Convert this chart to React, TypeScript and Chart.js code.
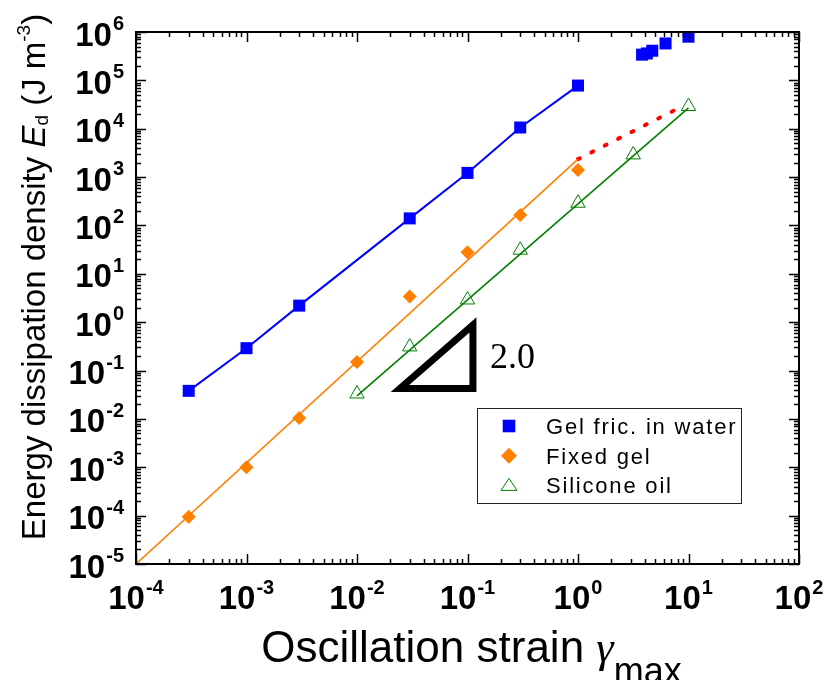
import React, { useEffect, useRef } from "react";
import { Chart, registerables } from "chart.js";

Chart.register(...registerables);

// ---------- data ----------
const gelWaterX = [3e-4, 1e-3, 3e-3, 3e-2, 1e-1, 3e-1, 1, 3.8, 4.2, 4.7, 6.2, 10];
const gelWaterY = [0.038, 0.29, 2.2, 140, 1220, 10600, 78000, 340000, 360000, 410000, 580000, 800000];

const fixedGelX = [3e-4, 1e-3, 3e-3, 1e-2, 3e-2, 1e-1, 3e-1, 1];
const fixedGelY = [9.5e-5, 1.0e-3, 0.0105, 0.15, 3.4, 28, 165, 1400];

const siliconeX = [1e-2, 3e-2, 1e-1, 3e-1, 1, 3.16, 10];
const siliconeY = [0.033, 0.31, 2.9, 31, 290, 2900, 29000];

const fixedGelFitX = [1e-4, 1];
const fixedGelFitY = [1e-5, 2350];

const siliconeFitX = [1e-2, 10];
const siliconeFitY = [0.03, 27000];

const extrapX = [1, 8.5];
const extrapY = [2350, 28000];

// slope triangle (data coordinates), path starts mid-bottom so every corner is joined
const slopeTriX = [0.0524, 0.112, 0.112, 0.0245, 0.0524];
const slopeTriY = [0.0426, 0.0426, 0.88, 0.0426, 0.0426];
const slopeLabel = "2.0";

const xExponents = [-4, -3, -2, -1, 0, 1, 2];
const yExponents = [-5, -4, -3, -2, -1, 0, 1, 2, 3, 4, 5, 6];

const seriesLabels = ["Gel fric. in water", "Fixed gel", "Silicone oil"];

// ---------- styles ----------
const BLUE = "#0000ff";
const ORANGE = "#ff8000";
const GREEN = "#008000";
const RED = "#ff0000";
const SANS = "'Liberation Sans', Arial, sans-serif";
const SERIF = "'Liberation Serif', 'Times New Roman', serif";

const pts = (xs: number[], ys: number[]) => xs.map((x, i) => ({ x, y: ys[i] }));

type Piece = { text: string; font: string; dy?: number };

function drawPieces(ctx: CanvasRenderingContext2D, pieces: Piece[], cx: number, baseline: number) {
  let total = 0;
  const widths = pieces.map((p) => {
    ctx.font = p.font;
    const w = ctx.measureText(p.text).width;
    total += w;
    return w;
  });
  let x = cx - total / 2;
  pieces.forEach((p, i) => {
    ctx.font = p.font;
    ctx.fillText(p.text, x, baseline + (p.dy || 0));
    x += widths[i];
  });
}

function drawPow(ctx: CanvasRenderingContext2D, exp: number, x: number, baseline: number, align: "right" | "center") {
  const baseFont = `bold 33px ${SANS}`;
  const expFont = `bold 20px ${SANS}`;
  ctx.font = baseFont;
  const wb = ctx.measureText("10").width;
  ctx.font = expFont;
  const es = String(exp);
  const we = ctx.measureText(es).width;
  const total = wb + 1 + we;
  const sx = align === "right" ? x - total : x - total / 2;
  ctx.textAlign = "left";
  ctx.textBaseline = "alphabetic";
  ctx.font = baseFont;
  ctx.fillText("10", sx, baseline);
  ctx.font = expFont;
  ctx.fillText(es, sx + wb + 1, baseline - 15.5);
}

const decorPlugin = {
  id: "decor",
  afterDraw(chart: any) {
    const ctx: CanvasRenderingContext2D = chart.ctx;
    const { left, right, top, bottom } = chart.chartArea;
    const xs = chart.scales.x;
    const ys = chart.scales.y;
    ctx.save();
    ctx.fillStyle = "#000";
    ctx.strokeStyle = "#000";

    // ticks (inward, all four sides)
    ctx.lineWidth = 1.5;
    ctx.beginPath();
    xExponents.forEach((e) => {
      for (let m = 1; m <= 9; m++) {
        const v = m * Math.pow(10, e);
        if (v > xs.max * 1.0001) break;
        const px = Math.round(xs.getPixelForValue(v)) + 0.5;
        const len = m === 1 ? 10 : 5;
        ctx.moveTo(px, bottom);
        ctx.lineTo(px, bottom - len);
        ctx.moveTo(px, top);
        ctx.lineTo(px, top + len);
      }
    });
    yExponents.forEach((e) => {
      for (let m = 1; m <= 9; m++) {
        const v = m * Math.pow(10, e);
        if (v > ys.max * 1.0001) break;
        const py = Math.round(ys.getPixelForValue(v)) + 0.5;
        const len = m === 1 ? 10 : 5;
        ctx.moveTo(left, py);
        ctx.lineTo(left + len, py);
        ctx.moveTo(right, py);
        ctx.lineTo(right - len, py);
      }
    });
    ctx.stroke();

    // frame
    ctx.lineWidth = 2;
    ctx.strokeRect(left, top, right - left, bottom - top);

    // tick labels
    xExponents.forEach((e) => {
      drawPow(ctx, e, xs.getPixelForValue(Math.pow(10, e)), bottom + 45, "center");
    });
    yExponents.forEach((e) => {
      drawPow(ctx, e, left - 12, ys.getPixelForValue(Math.pow(10, e)) + 13.5, "right");
    });

    // x title
    ctx.textAlign = "left";
    ctx.textBaseline = "alphabetic";
    drawPieces(
      ctx,
      [
        { text: "Oscillation strain ", font: `44px ${SANS}` },
        { text: "\u03b3", font: `italic 44px ${SERIF}` },
        { text: "max", font: `36px ${SANS}`, dy: 21 },
      ],
      463.5,
      654
    );

    // y title
    ctx.save();
    ctx.translate(37, 269);
    ctx.rotate(-Math.PI / 2);
    drawPieces(
      ctx,
      [
        { text: "Energy dissipation density ", font: `33px ${SANS}` },
        { text: "E", font: `italic 33px ${SANS}` },
        { text: "d", font: `19px ${SANS}`, dy: 3 },
        { text: " (J m", font: `33px ${SANS}` },
        { text: "-3", font: `19px ${SANS}`, dy: -15 },
        { text: ")", font: `33px ${SANS}` },
      ],
      0,
      0
    );
    ctx.restore();

    // slope label
    const triRight = xs.getPixelForValue(Math.max(...slopeTriX));
    const triBottom = ys.getPixelForValue(Math.min(...slopeTriY));
    ctx.font = `36px ${SERIF}`;
    ctx.fillText(slopeLabel, triRight + 17, triBottom - 20);

    // legend
    const lx = 469.5, ly = 400.5, lw = 264, lh = 95;
    ctx.fillStyle = "#fff";
    ctx.fillRect(lx, ly, lw, lh);
    ctx.strokeStyle = "#222";
    ctx.lineWidth = 1;
    ctx.strokeRect(lx, ly, lw, lh);
    const rows = [418, 447.7, 477.4];
    const mx = 501;
    // square
    ctx.fillStyle = BLUE;
    ctx.fillRect(mx - 6.3, rows[0] - 6.3, 12.6, 12.6);
    // diamond
    ctx.fillStyle = ORANGE;
    ctx.beginPath();
    ctx.moveTo(mx - 8, rows[1]);
    ctx.lineTo(mx, rows[1] - 8);
    ctx.lineTo(mx + 8, rows[1]);
    ctx.lineTo(mx, rows[1] + 8);
    ctx.closePath();
    ctx.fill();
    // triangle
    ctx.strokeStyle = GREEN;
    ctx.lineWidth = 1;
    ctx.beginPath();
    ctx.moveTo(mx, rows[2] - 7);
    ctx.lineTo(mx + 8, rows[2] + 5);
    ctx.lineTo(mx - 8, rows[2] + 5);
    ctx.closePath();
    ctx.stroke();
    ctx.fillStyle = "#000";
    ctx.font = `22px ${SANS}`;
    (ctx as any).letterSpacing = "1.8px";
    seriesLabels.forEach((t, i) => {
      ctx.fillText(t, 538, rows[i] + 8);
    });
    (ctx as any).letterSpacing = "0px";
    ctx.restore();
  },
};

export default function App() {
  const ref = useRef<HTMLCanvasElement | null>(null);
  useEffect(() => {
    if (!ref.current) return;
    const chart = new Chart(ref.current, {
      type: "scatter",
      data: {
        datasets: [
          {
            label: seriesLabels[0],
            data: pts(gelWaterX, gelWaterY),
            pointStyle: "rect",
            pointRadius: 8.5,
            backgroundColor: BLUE,
            borderColor: BLUE,
            borderWidth: 0,
          },
          {
            label: seriesLabels[1],
            data: pts(fixedGelX, fixedGelY),
            pointStyle: "rectRot",
            pointRadius: 7,
            backgroundColor: ORANGE,
            borderColor: ORANGE,
            borderWidth: 0,
          },
          {
            label: seriesLabels[2],
            data: pts(siliconeX, siliconeY),
            pointStyle: "triangle",
            pointRadius: 8.3,
            backgroundColor: "rgba(0,0,0,0)",
            borderColor: GREEN,
            borderWidth: 1,
          },
          {
            label: "gel-line",
            data: pts(gelWaterX, gelWaterY).filter((p) => p.x <= 1),
            showLine: true,
            pointRadius: 0,
            borderColor: BLUE,
            borderWidth: 2,
          },
          {
            label: "fixed-fit",
            data: pts(fixedGelFitX, fixedGelFitY),
            showLine: true,
            pointRadius: 0,
            borderColor: ORANGE,
            borderWidth: 1.6,
          },
          {
            label: "silicone-fit",
            data: pts(siliconeFitX, siliconeFitY),
            showLine: true,
            pointRadius: 0,
            borderColor: GREEN,
            borderWidth: 1.6,
          },
          {
            label: "extrapolation",
            data: pts(extrapX, extrapY),
            showLine: true,
            pointRadius: 0,
            borderColor: RED,
            borderWidth: 4,
            borderDash: [2, 13],
            borderCapStyle: "round",
          },
          {
            label: "slope",
            data: pts(slopeTriX, slopeTriY),
            showLine: true,
            pointRadius: 0,
            borderColor: "#000",
            borderWidth: 7,
            borderJoinStyle: "miter",
          },
        ] as any,
      },
      options: {
        responsive: false,
        animation: false,
        events: [],
        layout: { padding: { left: 128, top: 24, right: 25, bottom: 116 } },
        scales: {
          x: { type: "logarithmic", min: 1e-4, max: 1e2, display: false },
          y: { type: "logarithmic", min: 1e-5, max: 1e6, display: false },
        },
        plugins: { legend: { display: false }, tooltip: { enabled: false } },
      },
      plugins: [decorPlugin],
    });
    return () => chart.destroy();
  }, []);
  return (
    <div style={{ width: 816, height: 672 }}>
      <canvas ref={ref} width={816} height={672} />
    </div>
  );
}
